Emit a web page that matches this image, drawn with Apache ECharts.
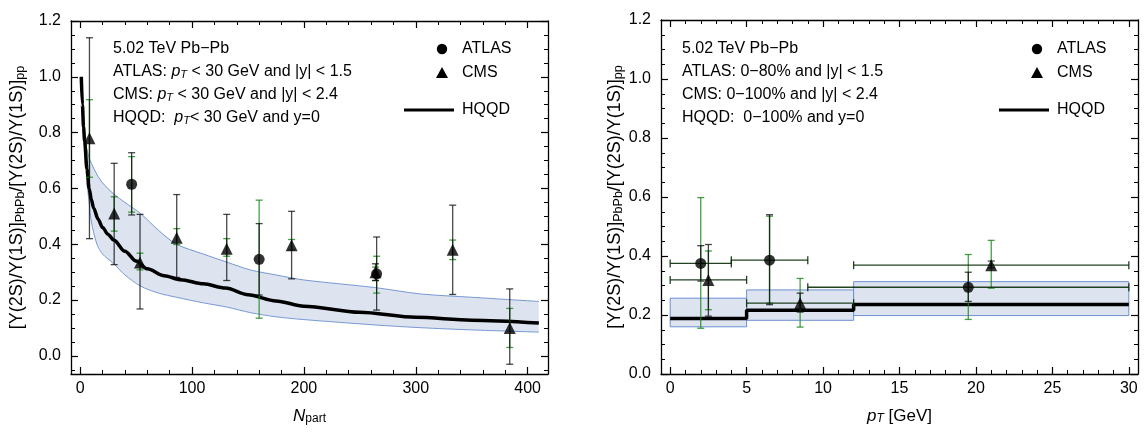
<!DOCTYPE html>
<html><head><meta charset="utf-8">
<script src="https://cdn.jsdelivr.net/npm/echarts@6/dist/echarts.min.js"></script>
<style>html,body{margin:0;padding:0;background:#fff}#c{width:1146px;height:432px}</style>
</head><body><div id="c"></div>
<script>
// ================= LEFT PANEL: ratio vs N_part =================
const curveNpart = [1,2,3,4,6,8,10,12,16,20,25,30,40,50,60,75,90,110,130,150,175,200,250,300,350,410];
const curveHQQD  = [1.0,0.9,0.82,0.77,0.67,0.6,0.56,0.53,0.49,0.46,0.435,0.415,0.375,0.34,0.312,0.287,0.273,0.258,0.243,0.219,0.197,0.178,0.156,0.138,0.128,0.118];
const bandNpart  = [6,8,10,15,20,30,40,54,70,86,110,131,152,175,200,263,304,350,410];
const bandUpper  = [0.74,0.71,0.69,0.65,0.62,0.58,0.55,0.51,0.45,0.40,0.365,0.336,0.308,0.29,0.272,0.245,0.222,0.21,0.195];
const bandLower  = [0.62,0.55,0.48,0.40,0.365,0.33,0.29,0.25,0.225,0.21,0.19,0.175,0.155,0.14,0.13,0.111,0.101,0.093,0.085];

const atlasNpart   = [46,160,265];
const atlasRatio   = [0.615,0.346,0.294];
const atlasBlackLo = [0.505,0.218,0.164];
const atlasBlackHi = [0.728,0.474,0.426];
const atlasGreenLo = [0.515,0.135,0.225];
const atlasGreenHi = [0.714,0.558,0.357];

const cmsNpart   = [8.3,30.4,53.5,86.3,131,189,264,333,384];
const cmsRatio   = [0.78,0.51,0.335,0.423,0.384,0.396,0.30,0.38,0.10];
const cmsBlackLo = [0.42,0.327,0.168,0.281,0.27,0.276,0.27,0.22,-0.03];
const cmsBlackHi = [1.14,0.69,0.507,0.578,0.507,0.518,0.33,0.54,0.24];
const cmsGreenLo = [0.64,0.447,0.308,0.399,0.357,0.38,0.27,0.345,0.03];
const cmsGreenHi = [0.918,0.57,0.368,0.456,0.42,0.417,0.318,0.415,0.17];

// ================= RIGHT PANEL: ratio vs pT =================
const atlasPt      = [2,6.5,19.5];
const atlasPtLo    = [0,4,9];
const atlasPtHi    = [4,9,30];
const atlasPtRatio = [0.375,0.386,0.294];
const atlasPtBlackLo = [0.315,0.235,0.246];
const atlasPtBlackHi = [0.435,0.54,0.345];
const atlasPtGreenLo = [0.155,0.24,0.185];
const atlasPtGreenHi = [0.598,0.535,0.405];

const cmsPt      = [2.5,8.5,21];
const cmsPtLo    = [0,5,12];
const cmsPtHi    = [5,12,30];
const cmsPtRatio = [0.319,0.24,0.369];
const cmsPtBlackLo = [0.196,0.21,0.36];
const cmsPtBlackHi = [0.439,0.274,0.383];
const cmsPtGreenLo = [0.218,0.159,0.291];
const cmsPtGreenHi = [0.417,0.324,0.453];

const hqqdPtEdges = [0,5,12,30];
const hqqdPtVals  = [0.188,0.216,0.236];
const hqqdPtLo    = [0.16,0.182,0.198];
const hqqdPtHi    = [0.257,0.285,0.313];

// ================= Tick labels =================
const npartMajor = [0,100,200,300,400];
const ptMajor    = [0,5,10,15,20,25,30];
const ratioMajor = [0,0.2,0.4,0.6,0.8,1.0,1.2];

// ----------------------------------------------------------
const FONT = 'Liberation Sans, Arial, sans-serif';
const BLACK_ERR = 'rgba(0,0,0,0.72)';
const GREEN_ERR = 'rgba(25,135,25,0.8)';
const BAND_FILL = '#dde4f0';
const BAND_EDGE = '#6a8fcf';

function minors(lo, hi, step, majorStep) {
  const out = [];
  const k0 = Math.ceil(lo / step - 1e-9), k1 = Math.floor(hi / step + 1e-9);
  const ratio = Math.round(majorStep / step);
  for (let k = k0; k <= k1; k++) {
    if (((k % ratio) + ratio) % ratio !== 0) out.push(+(k * step).toFixed(6));
  }
  return out;
}

function xAxes(gi, min, max, majors, minorVals, name, fmt, nameGap) {
  const base = {type:'value', gridIndex:gi, min:min, max:max, splitLine:{show:false}};
  const line = {show:true, onZero:false, lineStyle:{color:'#000', width:1.3}};
  return [
    Object.assign({}, base, {position:'bottom', axisLine:line,
      axisTick:{show:true, inside:true, length:7, customValues:majors, lineStyle:{color:'#000', width:1.2}},
      axisLabel:{show:true, customValues:majors, formatter:fmt, margin:7, fontSize:16, color:'#000', fontFamily:FONT},
      name:name, nameLocation:'middle', nameGap:nameGap,
      nameTextStyle:{fontSize:17, color:'#000', fontFamily:FONT,
        rich:{i:{fontStyle:'italic', fontSize:17, fontFamily:FONT, color:'#000'},
              si:{fontStyle:'italic', fontSize:12, fontFamily:FONT, color:'#000', verticalAlign:'bottom', padding:[6,0,0,0]},
              s:{fontSize:12, fontFamily:FONT, color:'#000', verticalAlign:'bottom', padding:[6,0,0,0]}}}}),
    Object.assign({}, base, {position:'bottom', axisLine:{show:false, onZero:false},
      axisTick:{show:true, inside:true, length:4, customValues:minorVals, lineStyle:{color:'#000', width:1}},
      axisLabel:{show:false}}),
    Object.assign({}, base, {position:'top', axisLine:line,
      axisTick:{show:true, inside:true, length:7, customValues:majors, lineStyle:{color:'#000', width:1.2}},
      axisLabel:{show:false}}),
    Object.assign({}, base, {position:'top', axisLine:{show:false, onZero:false},
      axisTick:{show:true, inside:true, length:4, customValues:minorVals, lineStyle:{color:'#000', width:1}},
      axisLabel:{show:false}})
  ];
}

const yName = '[Υ(2S)/Υ(1S)]{s|PbPb}/[Υ(2S)/Υ(1S)]{s|pp}';
function yAxes(gi, min, max, majors, minorVals, nameGap) {
  const base = {type:'value', gridIndex:gi, min:min, max:max, splitLine:{show:false}};
  const line = {show:true, onZero:false, lineStyle:{color:'#000', width:1.3}};
  return [
    Object.assign({}, base, {position:'left', axisLine:line,
      axisTick:{show:true, inside:true, length:7, customValues:majors, lineStyle:{color:'#000', width:1.2}},
      axisLabel:{show:true, customValues:majors, formatter:v => v.toFixed(1), margin:10, fontSize:16, color:'#000', fontFamily:FONT},
      name:yName, nameLocation:'middle', nameRotate:90, nameGap:nameGap,
      nameTextStyle:{fontSize:18, color:'#000', fontFamily:FONT,
        rich:{s:{fontSize:12.5, fontFamily:FONT, color:'#000', verticalAlign:'bottom', padding:[6,0,0,0]}}}}),
    Object.assign({}, base, {position:'left', axisLine:{show:false, onZero:false},
      axisTick:{show:true, inside:true, length:4, customValues:minorVals, lineStyle:{color:'#000', width:1}},
      axisLabel:{show:false}}),
    Object.assign({}, base, {position:'right', axisLine:line,
      axisTick:{show:true, inside:true, length:7, customValues:majors, lineStyle:{color:'#000', width:1.2}},
      axisLabel:{show:false}}),
    Object.assign({}, base, {position:'right', axisLine:{show:false, onZero:false},
      axisTick:{show:true, inside:true, length:4, customValues:minorVals, lineStyle:{color:'#000', width:1}},
      axisLabel:{show:false}})
  ];
}

const L_X = [-8.2, 418.2], L_Y = [-0.065, 1.2];
const R_X = [-0.6, 30.6],  R_Y = [0, 1.2];

function vErr(color) {
  return function (params, api) {
    const x = api.value(0), lo = api.value(1), hi = api.value(2);
    const a = api.coord([x, lo]), b = api.coord([x, hi]);
    const w = 3.5, st = {stroke:color, lineWidth:1.3};
    return {type:'group', children:[
      {type:'line', shape:{x1:a[0], y1:a[1], x2:b[0], y2:b[1]}, style:st},
      {type:'line', shape:{x1:a[0]-w, y1:a[1], x2:a[0]+w, y2:a[1]}, style:st},
      {type:'line', shape:{x1:b[0]-w, y1:b[1], x2:b[0]+w, y2:b[1]}, style:st}
    ]};
  };
}
function hErr(color) {
  return function (params, api) {
    const x0 = api.value(0), x1 = api.value(1), y = api.value(2);
    const a = api.coord([x0, y]), b = api.coord([x1, y]);
    const w = 4, st = {stroke:color, lineWidth:1.3};
    return {type:'group', children:[
      {type:'line', shape:{x1:a[0], y1:a[1], x2:b[0], y2:b[1]}, style:st},
      {type:'line', shape:{x1:a[0], y1:a[1]-w, x2:a[0], y2:a[1]+w}, style:st},
      {type:'line', shape:{x1:b[0], y1:b[1]-w, x2:b[0], y2:b[1]+w}, style:st}
    ]};
  };
}
function zip3(a, b, c) { return a.map((v, i) => [v, b[i], c[i]]); }

const series = [];
// ---- left band polygon ----
series.push({type:'custom', xAxisIndex:0, yAxisIndex:0, z:1, silent:true,
  data: zip3(bandNpart, bandLower, bandUpper), encode:{x:0, y:[1,2]},
  renderItem: function (params, api) {
    if (params.dataIndex !== 0) return;
    const pts = [];
    for (let i = 0; i < bandNpart.length; i++) pts.push(api.coord([bandNpart[i], bandUpper[i]]));
    for (let i = bandNpart.length - 1; i >= 0; i--) pts.push(api.coord([bandNpart[i], bandLower[i]]));
    return {type:'polygon', shape:{points:pts}, style:{fill:BAND_FILL}};
  }});
series.push({type:'line', xAxisIndex:0, yAxisIndex:0, z:2, symbol:'none', smooth:0.3,
  data: bandNpart.map((x, i) => [x, bandUpper[i]]), lineStyle:{color:BAND_EDGE, width:0.9}});
series.push({type:'line', xAxisIndex:0, yAxisIndex:0, z:2, symbol:'none', smooth:0.3,
  data: bandNpart.map((x, i) => [x, bandLower[i]]), lineStyle:{color:BAND_EDGE, width:0.9}});
series.push({type:'line', name:'HQQD', xAxisIndex:0, yAxisIndex:0, z:3, symbol:'none', smooth:0.3, smoothMonotone:'x',
  data: curveNpart.map((x, i) => [x, curveHQQD[i]]), lineStyle:{color:'#000', width:3.5}});
// error bars left
series.push({type:'custom', xAxisIndex:0, yAxisIndex:0, z:4, data:zip3(cmsNpart, cmsGreenLo, cmsGreenHi), encode:{x:0,y:[1,2]}, renderItem:vErr(GREEN_ERR)});
series.push({type:'custom', xAxisIndex:0, yAxisIndex:0, z:4, data:zip3(atlasNpart, atlasGreenLo, atlasGreenHi), encode:{x:0,y:[1,2]}, renderItem:vErr(GREEN_ERR)});
series.push({type:'custom', xAxisIndex:0, yAxisIndex:0, z:5, data:zip3(cmsNpart, cmsBlackLo, cmsBlackHi), encode:{x:0,y:[1,2]}, renderItem:vErr(BLACK_ERR)});
series.push({type:'custom', xAxisIndex:0, yAxisIndex:0, z:5, data:zip3(atlasNpart, atlasBlackLo, atlasBlackHi), encode:{x:0,y:[1,2]}, renderItem:vErr(BLACK_ERR)});
series.push({type:'scatter', name:'ATLAS', xAxisIndex:0, yAxisIndex:0, z:6, symbol:'circle', symbolSize:11,
  itemStyle:{color:'#000'}, data: atlasNpart.map((x, i) => [x, atlasRatio[i]])});
series.push({type:'scatter', name:'CMS', xAxisIndex:0, yAxisIndex:0, z:6, symbol:'triangle', symbolSize:12,
  itemStyle:{color:'#000'}, data: cmsNpart.map((x, i) => [x, cmsRatio[i]])});

// ---- right panel ----
series.push({type:'custom', xAxisIndex:4, yAxisIndex:4, z:1, silent:true,
  data: hqqdPtVals.map((v, i) => [hqqdPtEdges[i], hqqdPtEdges[i+1], hqqdPtLo[i], hqqdPtHi[i]]),
  encode:{x:[0,1], y:[2,3]},
  renderItem: function (params, api) {
    const a = api.coord([api.value(0), api.value(3)]), b = api.coord([api.value(1), api.value(2)]);
    return {type:'rect', shape:{x:a[0], y:a[1], width:b[0]-a[0], height:b[1]-a[1]},
      style:{fill:BAND_FILL, stroke:BAND_EDGE, lineWidth:1}};
  }});
const stepPts = hqqdPtEdges.map((e, i) => [e, hqqdPtVals[Math.min(i, hqqdPtVals.length - 1)]]);
series.push({type:'line', xAxisIndex:4, yAxisIndex:4, z:3, symbol:'none', step:'end',
  data: stepPts, lineStyle:{color:'#000', width:3.5}});
series.push({type:'custom', xAxisIndex:4, yAxisIndex:4, z:4, data:zip3(atlasPt, atlasPtGreenLo, atlasPtGreenHi), encode:{x:0,y:[1,2]}, renderItem:vErr(GREEN_ERR)});
series.push({type:'custom', xAxisIndex:4, yAxisIndex:4, z:4, data:zip3(cmsPt, cmsPtGreenLo, cmsPtGreenHi), encode:{x:0,y:[1,2]}, renderItem:vErr(GREEN_ERR)});
series.push({type:'custom', xAxisIndex:4, yAxisIndex:4, z:5, data:zip3(atlasPt, atlasPtBlackLo, atlasPtBlackHi), encode:{x:0,y:[1,2]}, renderItem:vErr(BLACK_ERR)});
series.push({type:'custom', xAxisIndex:4, yAxisIndex:4, z:5, data:zip3(cmsPt, cmsPtBlackLo, cmsPtBlackHi), encode:{x:0,y:[1,2]}, renderItem:vErr(BLACK_ERR)});
series.push({type:'custom', xAxisIndex:4, yAxisIndex:4, z:5, data:zip3(atlasPtLo, atlasPtHi, atlasPtRatio), encode:{x:[0,1],y:2}, renderItem:hErr('rgba(10,45,10,0.9)')});
series.push({type:'custom', xAxisIndex:4, yAxisIndex:4, z:5, data:zip3(cmsPtLo, cmsPtHi, cmsPtRatio), encode:{x:[0,1],y:2}, renderItem:hErr('rgba(10,45,10,0.9)')});
series.push({type:'scatter', name:'ATLAS', xAxisIndex:4, yAxisIndex:4, z:6, symbol:'circle', symbolSize:11,
  itemStyle:{color:'#000'}, data: atlasPt.map((x, i) => [x, atlasPtRatio[i]])});
series.push({type:'scatter', name:'CMS', xAxisIndex:4, yAxisIndex:4, z:6, symbol:'triangle', symbolSize:12,
  itemStyle:{color:'#000'}, data: cmsPt.map((x, i) => [x, cmsPtRatio[i]])});

// ---- annotations & legends ----
const TXT = {fontSize:16, fontFamily:FONT, fill:'#000'};
const RICH = {i:{fontStyle:'italic', fontSize:16, fontFamily:FONT},
              si:{fontStyle:'italic', fontSize:11, fontFamily:FONT, verticalAlign:'bottom', padding:[5,0,0,0]}};
function txt(x, y, s) {
  return {type:'text', x:x, y:y, silent:true,
    style:Object.assign({}, TXT, {text:s, rich:RICH, verticalAlign:'middle', align:'left'})};
}
const leftLines = ['5.02 TeV Pb−Pb',
  'ATLAS: {i|p}{si|T} < 30 GeV and |y| < 1.5',
  'CMS: {i|p}{si|T} < 30 GeV and |y| < 2.4',
  'HQQD:  {i|p}{si|T}< 30 GeV and y=0'];
const rightLines = ['5.02 TeV Pb−Pb',
  'ATLAS: 0−80% and |y| < 1.5',
  'CMS: 0−100% and |y| < 2.4',
  'HQQD:  0−100% and y=0'];
const lineY = [49, 72, 95, 118];
const graphic = [];
leftLines.forEach((s, i) => graphic.push(txt(113, lineY[i], s)));
rightLines.forEach((s, i) => graphic.push(txt(682, lineY[i], s)));
function legend(lx) {
  // lx = left end of the HQQD legend line
  graphic.push({type:'circle', shape:{cx:lx+38, cy:49, r:5.2}, style:{fill:'#000'}, silent:true});
  graphic.push({type:'polygon', shape:{points:[[lx+38, 67], [lx+32, 78], [lx+44, 78]]}, style:{fill:'#000'}, silent:true});
  graphic.push({type:'line', shape:{x1:lx, y1:110, x2:lx+50, y2:110}, style:{stroke:'#000', lineWidth:3.2}, silent:true});
  graphic.push(txt(lx+58, 49, 'ATLAS'));
  graphic.push(txt(lx+58, 73, 'CMS'));
  graphic.push(txt(lx+58, 110, 'HQQD'));
}
legend(404);
legend(999);

const option = {
  animation:false,
  backgroundColor:'#fff',
  grid:[
    {left:71, top:21, width:477, height:353, containLabel:false},
    {left:661, top:20, width:477, height:354, containLabel:false}
  ],
  xAxis: [].concat(
    xAxes(0, L_X[0], L_X[1], npartMajor, minors(0, 418, 20, 100), '{i|N}{s|part}', v => String(v), 33),
    xAxes(1, R_X[0], R_X[1], ptMajor, minors(0, 30, 1, 5), '{i|p}{si|T} [GeV]', v => String(v), 33)
  ),
  yAxis: [].concat(
    yAxes(0, L_Y[0], L_Y[1], ratioMajor, minors(-0.065, 1.2, 0.05, 0.2), 44),
    yAxes(1, R_Y[0], R_Y[1], ratioMajor, minors(0, 1.2, 0.05, 0.2), 35)
  ),
  series: series,
  graphic: graphic
};
const chart = echarts.init(document.getElementById('c'), null, {renderer:'canvas', width:1146, height:432});
chart.setOption(option);
</script>
</body></html>
